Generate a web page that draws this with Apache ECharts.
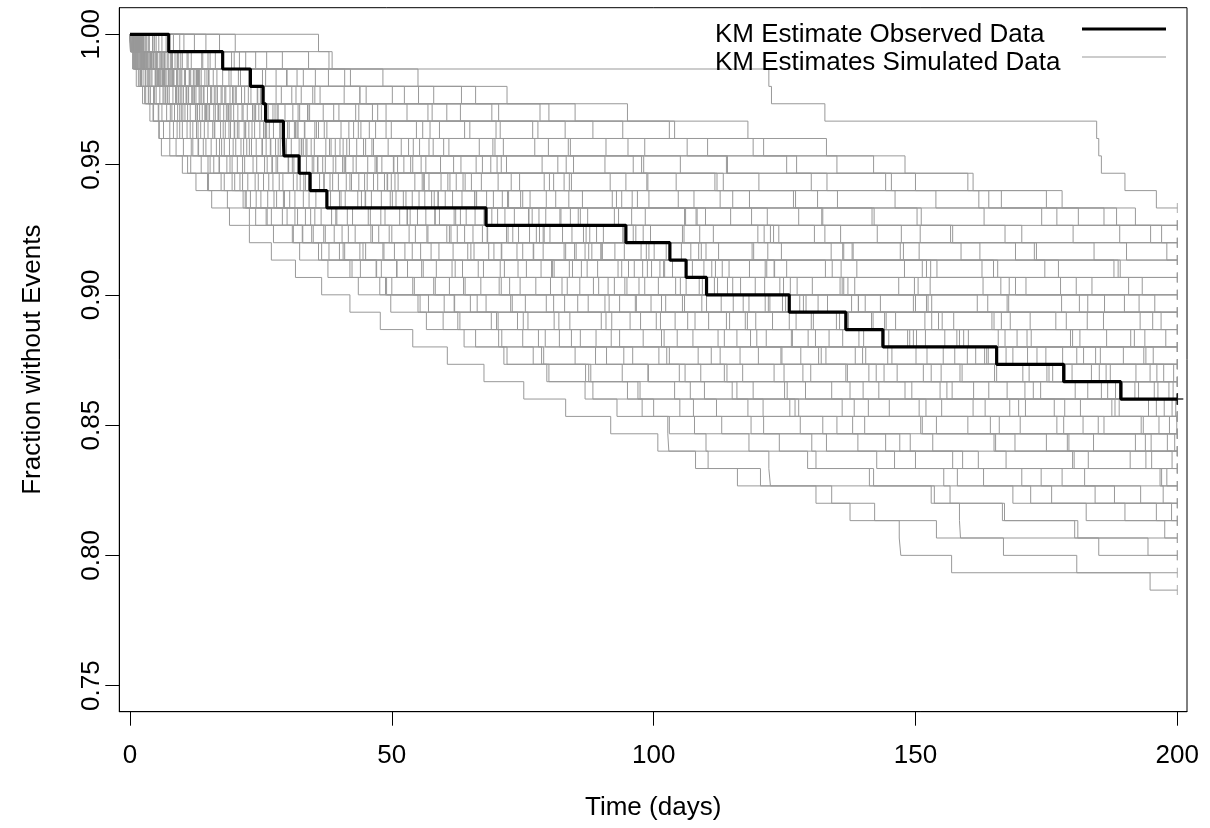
<!DOCTYPE html>
<html><head><meta charset="utf-8">
<script src="https://cdn.jsdelivr.net/npm/echarts@6/dist/echarts.min.js"></script>
<style>html,body{margin:0;padding:0;background:#fff}#c{width:1210px;height:828px}</style>
</head><body><div id="c"></div>
<script>
// ---- data ----
const nAtRisk = 150;            // each event lowers the KM estimate by 1/150
const endTime = 200;            // all curves censored at day 200
const xTickLabels = [0, 50, 100, 150, 200];
const yTickLabels = [0.75, 0.80, 0.85, 0.90, 0.95, 1.00];
const legendNames = ['KM Estimate Observed Data', 'KM Estimates Simulated Data'];

// event times (days) of the observed data
const observedEvents = [7.4, 17.7, 23.0, 25.4, 25.9, 29.3, 29.4, 32.3, 34.4, 37.6, 68.0, 94.7, 103.1, 106.2, 110.1, 125.9, 136.7, 143.8, 165.5, 178.3, 189.2];

// event times (days) of simulated data sets
const sim01 = [0.5,1,2,3,4.5,5.5,6,11,15,22,24,33,40,48,50,60,69,75,77,87,95,100,103,110,122,122.3,134,137.5,146.9,147.2,156.9,194.8];
const sim02 = [0.3,1.5,4,4.5,7,9,12,14.9,18,22.2,27,32.9,38,44,47.7,55,59.8,66,72,80,86.9,93,102.7,102.9,108,116,156.6,158.4,158.6,185];
const sim03 = [0.8,2.5,3.5,5,8,10,13,16,20,23,26,31,36,42,49,57,63,71,79,88,97,105,113,124,131,142,153,167,181];
const sim04 = [0.2,1.2,3,6.5,8.5,12,14,17,21,25,30,35,41,47,54,62,70,78,85,94,104,112,121,133,146,158,172,190];
const sim05 = [1.8,2.2,5.2,7.5,9.5,11.5,16.5,19.5,24.5,28,33.5,37,45,51,58,65,74,82,91,99,107,118,128,139,150,163,176,196];
const sim06 = [0.6,2.8,4.2,6.8,10.5,13.5,15.5,18.5,22.5,27.5,32,39,44.5,53,61,68,76,86,96,106,115,127,138,149,162,178,193];
const sim07 = [1.1,3.3,5.8,8.2,9.8,14.2,17.5,21.5,26.5,29.5,34.5,40.5,48.5,56,64,73,81,89,101,109,119,126,135,147,159,174,188];
const sim08 = [0.4,2.1,4.8,7.2,11,13,18,20.5,25.5,30.5,36.5,43,50.5,58.5,67,75.5,84,93.5,103,114,125,136,151,165,180,198];
const sim09 = [1.4,3.8,6.2,9.2,12.5,15.8,19,23.5,28.5,31.5,38.5,46,52.5,61.5,70.5,79.5,90,98,108.5,117,129,141,154,169,183,197];
const sim10 = [0.9,3.1,5.4,8.8,12.8,16.2,20.2,24.2,29.2,34.2,39.5,47.5,55.5,63.5,72.5,83,92,102,111,123,134,145,160,175,191];
const sim11 = [1.6,4.4,7.8,10.2,14.6,17.8,22.8,26.2,31.2,37.5,42.5,50,59,66.5,77.5,87.5,97.5,107.5,120,130,143,155,170,184,199];
const sim12 = [0.7,2.6,6.6,9.6,13.8,19.2,21.2,27.2,32.5,35.5,41.5,49.5,57.5,67.5,74.5,85.5,95.5,104.5,116.5,128.5,140,152,166,179,194];
const sim13 = [1.3,4.6,8.4,11.8,16.8,20.8,25.2,30.2,36.2,43.5,51.5,60.5,69.5,78.5,88.5,99.5,110.5,121.5,132,144,157,171,186,199.5];
const sim14 = [0.1,2.4,5.6,10.8,14.4,18.2,23.2,28.2,33.2,40,45.5,54.5,64.5,71.5,82.5,91.5,100.5,113.5,124.5,137,148,161,177,192];
const sim15 = [2.0,3.6,7.4,12.2,15.2,21.8,26.8,32.2,38.2,44.2,53.5,62.5,68.5,80.5,89.5,96.5,106.5,118.5,131.5,142.5,156,168,182,195];
const sim16 = [0.5,3.9,7.6,12.6,17.2,22,27.8,34.8,39.8,48,56.5,65.5,75,84.5,94.5,105.5,117.5,129.5,140.5,153,167.5,181.5,196.5];
const sim17 = [1.7,5.1,9.4,13.2,18.8,24.8,29.8,35.8,42,50.8,58.2,68.2,77,86.2,97.2,109.2,119.5,133.5,145.5,158.5,172.5,187.5,198.5];
const sim18 = [0.3,2.9,6.4,11.2,16,20,26,31,37,45,53,61,71,81,92.5,101.5,114.5,126.5,138.5,151.5,164,178.5,193.5];
const sim19 = [1.0,4.9,9.9,14.8,19.8,25.8,32.8,38.8,46.5,55.2,64.2,74.2,85.2,95.2,106.2,118.2,130.5,143.5,157.5,170.5,185.5,199];
const sim20 = [2.3,6.0,10.4,15.4,21.4,27.4,33.8,41.2,49.2,58.8,67.8,78.2,88.2,98.8,110.2,122.2,135.5,148.5,161.5,175.5,189.5,197.5];
const sim21 = [0.8,3.4,8.0,13.4,18.4,23.8,30.8,36.8,44.8,52.2,62.2,72.2,83.2,93.2,104.2,115.2,127.2,139.2,152.2,165.5,180.5,194.5];
const sim22 = [1.9,5.9,11.4,16.4,22.4,28.8,35.2,43.2,51.2,60.2,70.2,80.2,90.2,101.2,112.2,125.2,137.2,150.2,163.2,176.2,188.2,196];
const sim23 = [0.6,4.1,9.1,14.1,20.6,26.6,33.6,40.6,48.6,57.6,67.6,77.6,87.6,99.6,111.6,124.6,136.6,149.6,163.6,178.6,192.6];
const sim24 = [2.7,7.1,12.4,17.4,23.4,30.4,37.4,45.4,54.4,63.4,73.4,84.4,94.4,107.4,119.4,131.4,144.4,158.4,171.4,186.4,198.4];
const sim25 = [1.2,5.3,10.6,15.6,21.6,28.6,34.6,42.6,50.6,61.6,71.6,82.6,92.6,103.6,116.6,128.6,141.6,155.6,168.6,183.6,195.6];
const sim26 = [3.2,8.6,13.6,19.6,24.6,31.6,39.2,47.2,56.2,66.2,76.2,86.6,97.6,109.6,121.2,133.2,146.2,159.2,173.2,187.2,199.2];
const sim27 = [0.9,6.3,11.6,17.6,24.0,31.4,38.4,46.8,55.8,65.8,76.8,87.8,98.6,111.8,124.8,137.8,151.8,165.8,180.8,194.8];
const sim28 = [2.5,7.7,13.1,19.1,26.4,33.4,41.4,50.4,59.4,69.4,79.4,90.4,102.4,114.4,127.4,140.4,154.4,169.4,184.4,197.4];
const sim29 = [1.5,5.7,12.1,18.1,25.1,32.1,40.1,48.1,57.1,68.1,78.1,89.1,100.1,113.1,126.1,139.1,153.1,167.1,182.1,196.1];
const sim30 = [4.3,9.3,14.3,21.3,28.3,35.3,43.3,52.3,62.3,72.3,82.3,94.3,105.3,118.3,130.3,143.3,157.3,171.3,185.3,199.3];
const sim31 = [1.1,7.3,13.3,20.3,27.3,35.6,44.6,53.6,63.6,74.6,85.6,96.6,108.6,121.6,135.6,149.6,164.6,179.6,193.6];
const sim32 = [3.0,9.0,15.0,22.6,29.6,37.6,46.2,55.6,65.2,76.4,87.4,99.4,112.4,125.4,138.4,152.4,166.4,181.4,195.4];
const sim33 = [0.4,6.7,12.7,19.7,27.7,36.0,45.0,54.0,64.0,75.0,86.0,98.0,110.0,123.0,136.0,150.0,165.0,180.0,194.0];
const sim34 = [2.1,8.1,15.1,23.1,31.1,40.3,49.3,59.3,70.3,81.3,93.3,105.8,118.8,132.8,146.8,161.8,176.8,191.8];
const sim35 = [5.0,10.0,16.6,24.4,32.4,41.8,51.8,61.8,72.8,83.8,95.8,108.8,121.8,135.8,149.8,163.8,178.8,193.8];
const sim36 = [1.6,9.7,17.7,25.7,34.0,43.6,53.2,63.2,74.4,86.4,98.4,111.4,124.4,138.8,152.8,167.8,182.8,197.8];
const sim37 = [3.7,11.7,19.3,27.9,36.9,46.9,57.9,68.9,80.9,92.9,105.9,119.9,133.9,147.9,162.9,177.9,192.9];
const sim38 = [6.9,14.9,22.9,30.9,39.9,49.9,60.9,71.9,83.9,96.9,109.9,123.9,137.9,152.9,167.9,182.9,196.9];
const sim39 = [2.6,10.9,18.9,28.9,38.9,48.9,59.9,70.9,82.9,95.9,108.3,122.3,136.3,151.3,166.3,181.3,195.3];
const sim40 = [4.7,13.7,22.7,32.7,43.7,54.7,66.7,78.7,91.7,104.7,118.7,132.7,147.7,162.7,177.7,192.7];
const sim41 = [8.3,16.3,25.3,35.3,46.3,57.3,69.3,81.7,94.7,107.7,121.7,135.7,150.7,165.7,180.7,195.7];
const sim42 = [6.1,15.3,25.9,36.3,47.3,59.1,71.3,84.7,98.7,112.7,127.7,142.7,158.7,174.7,190.7];
const sim43 = [10.3,19.9,29.9,40.9,52.9,64.9,77.3,90.7,104.3,118.3,132.3,147.3,162.3,177.3,193.3];
const sim44 = [12.3,22.1,33.1,45.1,57.7,70.7,84.1,98.1,112.1,127.1,142.1,157.1,173.1,189.1];
const sim45 = [9.5,20.9,31.9,43.9,56.9,69.9,83.7,97.7,111.7,126.7,141.7,156.7,172.7,188.7];
const sim46 = [14.5,26.1,37.9,50.1,63.1,76.9,90.9,105.1,120.1,135.1,151.1,167.1,184.1];
const sim47 = [17.1,29.1,42.1,55.1,69.1,83.1,98.3,114.1,130.1,146.1,163.1,180.1];
const sim48 = [20.1,34.1,48.3,63.3,78.3,94.1,110.3,127.3,144.3,162.1,181.1];
const sim49 = [36,38.6,122,122.5,132.7,184.6,185,185.5,190,196];
const sim50 = [2,24,41,58,80,103,121,142,160,178,192];
const sim51 = [4.4,19.4,35.4,52.4,70.4,88.4,106.4,125.4,145.4,166.4,188.4];
const sim52 = [1.3,13.9,27.9,43.9,60.5,77.9,95.1,113.9,133.1,153.9,174.1,194.9];
const sim53 = [0.7,9.1,21.1,34.9,48.9,63.9,79.9,96.1,113.3,131.3,150.3,170.3,190.3];
const sim54 = [3.5,11.1,20.7,31.7,43.1,55.9,69.7,83.3,98.9,115.1,132.1,150.9,169.1,187.9];
const sim55 = [0.2,6.3,14.7,24.3,34.3,45.7,57.1,70.1,84.3,99.1,114.7,130.7,147.1,164.9,183.7];
const sim56 = [1.9,7.9,15.9,24.9,33.9,44.1,55.3,67.3,80.1,93.9,108.1,122.9,138.1,154.1,171.1,189.9];
const sim57 = [0.4,4.2,12.9,21.9,32.1,42.7,54.1,66.1,79.1,92.1,106.1,121.1,136.1,152.1,169.1,186.1];
const sim58 = [2.2,6.6,13.1,20.1,28.1,37.1,46.5,56.5,67.1,79.5,92.5,105.5,119.1,134.1,150.5,167.5,185.9];
const sim59 = [0.6,3.1,8.9,16.1,23.9,31.9,40.7,50.3,60.7,71.1,82.1,94.1,107.1,121.3,136.3,152.1,168.1,186.5];
const sim60 = [1.4,5.1,11.3,18.3,25.1,33.3,41.9,51.1,61.1,72.1,84.1,96.1,109.1,123.1,137.1,153.1,171.9,191.1];
const sim61 = [0.5,2.7,7.3,12.3,18.7,25.5,33.1,41.1,49.1,58.1,67.9,78.9,90.1,102.1,115.1,129.1,144.1,160.1,178.1];
const sim62 = [1.7,4.5,9.7,16.7,23.7,30.1,38.1,47.1,56.1,66.1,76.1,87.1,99.1,111.1,124.1,139.1,155.1,172.1,189.7];
const sim63 = [0.3,2.3,6.9,11.9,17.9,23.3,29.9,37.3,45.3,53.9,63.1,73.1,84.9,96.3,108.7,121.9,136.9,151.9,167.3,185.1];
const sim64 = [1.2,3.9,8.1,14.1,19.1,26.1,32.7,40.9,49.9,58.9,69.1,79.1,89.9,101.9,114.1,127.9,141.9,157.9,174.9,192.1];
const sim65 = [0.8,2.9,5.3,9.9,14.9,20.5,26.9,33.7,41.3,49.7,58.3,67.3,77.1,87.3,98.3,110.1,122.7,136.1,150.1,165.1,182.9];
const sim66 = [0.1,1.8,6.1,10.7,16.3,22.1,28.7,35.9,43.7,52.7,61.9,71.9,82.9,93.9,105.1,117.1,130.1,144.9,159.9,175.1,191.9];
const sim67 = [2.4,4.1,8.3,13.7,19.3,25.9,32.3,39.3,47.3,56.3,65.9,76.3,86.9,97.9,109.3,121.3,134.9,148.9,163.9,179.9,196.3];
const sim68 = [0.5,1.6,4.9,8.7,13.3,18.9,24.1,30.3,37.1,44.9,52.9,61.3,70.9,80.7,91.3,102.3,113.9,126.3,139.9,154.9,170.9,188.9];
const sim69 = [1.0,3.2,6.7,11.1,16.9,22.7,28.3,35.1,42.3,50.1,59.1,68.3,78.9,89.3,100.9,112.9,125.9,140.1,155.3,171.7,186.7,199.7];
const sim70 = [0.2,1.4,3.7,7.1,11.5,16.1,21.7,27.1,33.5,40.3,47.9,56.7,65.7,75.7,85.9,96.7,107.9,119.7,132.9,146.5,161.1,176.5,193.1];
const sim71 = [0.9,2.0,5.5,9.3,14.3,19.9,25.3,31.3,38.7,46.1,54.9,63.9,73.9,83.9,94.9,105.9,117.9,130.9,144.7,158.9,173.9,188.1,199.9];
const sim72 = [0.4,1.1,3.3,6.3,10.1,14.9,19.7,25.7,31.9,38.3,45.9,53.3,61.7,70.7,80.3,90.7,101.3,112.3,124.3,136.7,149.3,163.3,178.3,193.9];
const sim73 = [1.5,2.6,5.0,8.9,12.9,17.3,22.3,27.9,34.1,41.1,48.7,56.9,65.1,74.1,83.5,93.5,104.1,115.9,128.1,141.1,154.7,169.7,184.9,198.1];
const sim74 = [0.6,1.3,2.9,5.7,9.1,12.7,17.1,21.9,27.3,33.1,39.3,46.3,53.9,62.1,70.9,80.9,90.9,101.5,112.7,124.9,137.5,150.7,164.3,179.3,195.1];
const sim75 = [0.3,0.9,2.5,4.7,7.7,10.9,14.5,19.1,23.9,29.3,35.3,41.7,48.3,55.7,63.7,72.7,81.9,91.9,102.5,113.5,125.5,138.3,151.3,165.3,180.3,196.7];
const sim76 = [0.2,0.8,2.0,3.9,6.1,9.5,13.1,17.1,21.5,26.3,31.5,37.3,43.9,50.9,58.3,66.3,75.1,84.3,94.3,104.9,115.9,127.7,140.3,153.3,167.3,182.3,197.3];
const sim77 = [0.1,0.7,1.9,3.5,5.5,8.3,11.7,15.3,19.5,24.1,29.1,34.7,40.7,47.1,54.3,61.9,70.3,79.3,88.9,98.9,109.7,120.9,132.3,144.3,157.1,170.3,184.3,198.9];
const sim78 = [0.4,1.0,2.2,3.6,5.4,7.6,10.2,13.6,17.4,21.6,26.2,31.2,36.6,42.4,48.8,55.4,62.6,70.4,78.6,87.6,97.4,107.6,118.6,130.2,142.6,155.4,168.6,182.6,197.6];
const sim79 = [0.2,0.6,1.6,2.8,4.4,6.4,8.8,11.6,14.8,18.6,22.8,27.4,32.4,37.8,43.6,49.8,56.6,63.8,71.4,79.6,88.4,97.8,107.8,118.2,129.4,141.2,153.6,166.6,180.4,194.4];
const sim80 = [0.1,0.5,1.2,2.4,3.8,5.6,7.6,10.0,12.6,15.6,19.0,22.8,27.0,31.6,36.6,42.0,47.8,54.0,60.6,67.6,75.2,83.2,91.8,100.8,110.4,120.4,131.0,142.2,154.0,166.8,180.8];
const sim81 = [5.5,38,55,72,95,118,133,148,161,175,186,197];
const sim82 = [1.0,8.0,30.0,66.0,85.0,104.0,119.0,135.0,150.0,164.0,177.0,189.0,198.0];

const simulatedSets = [sim01,sim02,sim03,sim04,sim05,sim06,sim07,sim08,sim09,sim10,
  sim11,sim12,sim13,sim14,sim15,sim16,sim17,sim18,sim19,sim20,
  sim21,sim22,sim23,sim24,sim25,sim26,sim27,sim28,sim29,sim30,
  sim31,sim32,sim33,sim34,sim35,sim36,sim37,sim38,sim39,sim40,
  sim41,sim42,sim43,sim44,sim45,sim46,sim47,sim48,sim49,sim50,
  sim51,sim52,sim53,sim54,sim55,sim56,sim57,sim58,sim59,sim60,
  sim61,sim62,sim63,sim64,sim65,sim66,sim67,sim68,sim69,sim70,
  sim71,sim72,sim73,sim74,sim75,sim76,sim77,sim78,sim79,sim80,
  sim81,sim82];

// ---- Kaplan-Meier step data from event times ----
function kmSteps(events) {
  let s = 1;
  const pts = [[0, 1]];
  events.forEach(t => { s = s - 1 / nAtRisk; pts.push([t, s]); });
  pts.push([endTime, s]);
  return pts;
}

const FONT = '"Liberation Sans", Arial, Helvetica, sans-serif';
const GRAY = '#999999';

const series = [];
const simEnds = [];
simulatedSets.forEach(ev => {
  const d = kmSteps(ev);
  simEnds.push([endTime, d[d.length - 1][1]]);
  series.push({
    type: 'line', name: legendNames[1], data: d, step: 'end', symbol: 'none',
    lineStyle: { color: GRAY, width: 1 }, itemStyle: { color: GRAY },
    silent: true, z: 2
  });
});
series.push({
  type: 'scatter', name: 'simCensor', data: simEnds, symbol: 'rect', symbolSize: [1, 10],
  itemStyle: { color: GRAY }, silent: true, z: 3
});
const obs = kmSteps(observedEvents);
series.push({
  type: 'line', name: legendNames[0], data: obs, step: 'end', symbol: 'none',
  lineStyle: { color: '#000', width: 3.2 }, itemStyle: { color: '#000' },
  silent: true, z: 5
});
series.push({
  type: 'scatter', name: 'obsCensor', data: [obs[obs.length - 1]],
  symbol: 'path://M5,0 L5,10 M0,5 L10,5', symbolSize: 12,
  itemStyle: { color: 'none', borderColor: '#000', borderWidth: 1.5 }, silent: true, z: 6
});

function legendFor(name, top, h) {
  return {
    orient: 'vertical', left: 715, top: top, align: 'right', padding: 0,
    icon: 'rect', itemWidth: 84, itemHeight: h, itemGap: 0, selectedMode: false,
    formatter: '{t|{name}}',
    textStyle: {
      color: '#000',
      rich: { t: { fontSize: 26, fontFamily: FONT, color: '#000', width: 362, align: 'left', padding: [12, 0, 0, 0] } }
    },
    data: [name]
  };
}

const chart = echarts.init(document.getElementById('c'), null, { renderer: 'canvas' });
chart.setOption({
  animation: false,
  backgroundColor: '#fff',
  textStyle: { fontFamily: FONT },
  grid: { left: 119.3, right: 23, top: 7.7, bottom: 116.3, show: true, borderColor: '#000', borderWidth: 1, backgroundColor: 'transparent' },
  legend: [legendFor(legendNames[0], 22, 3.2), legendFor(legendNames[1], 50, 1.2)],
  xAxis: {
    type: 'value', min: -2.04, max: 201.85,
    name: 'Time (days)', nameLocation: 'middle', nameGap: 83,
    nameTextStyle: { fontSize: 26, color: '#000', fontFamily: FONT },
    axisLine: { show: true, onZero: false, lineStyle: { color: '#000', width: 1 } },
    axisTick: { show: true, length: 14, lineStyle: { color: '#000' }, customValues: xTickLabels },
    axisLabel: { fontSize: 26, color: '#000', margin: 31, fontFamily: FONT, customValues: xTickLabels },
    splitLine: { show: false }
  },
  yAxis: {
    type: 'value', min: 0.74, max: 1.0102,
    name: 'Fraction without Events', nameLocation: 'middle', nameGap: 73, nameRotate: 90,
    nameTextStyle: { fontSize: 26, color: '#000', fontFamily: FONT },
    axisLine: { show: true, onZero: false, lineStyle: { color: '#000', width: 1 } },
    axisTick: { show: true, length: 14, lineStyle: { color: '#000' }, customValues: yTickLabels },
    axisLabel: { fontSize: 26, color: '#000', margin: 14, rotate: 90, fontFamily: FONT,
      customValues: yTickLabels, formatter: v => v.toFixed(2) },
    splitLine: { show: false }
  },
  series: series
});
</script></body></html>
